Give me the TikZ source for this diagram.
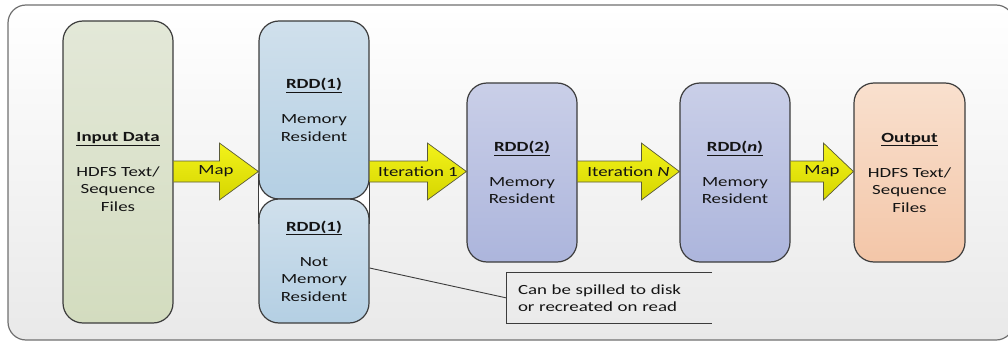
\documentclass[tikz,border=0pt]{standalone}
\usepackage{fontspec}
\setmainfont{Carlito}[FakeStretch=1.35]
\usetikzlibrary{calc,backgrounds}
\definecolor{boxline}{HTML}{3C3C3C}
\definecolor{inTop}{HTML}{E3E8D8}
\definecolor{inBot}{HTML}{D3DCBF}
\definecolor{rOneTop}{HTML}{D0E0EC}
\definecolor{rOneBot}{HTML}{B4CFE3}
\definecolor{rTwoTop}{HTML}{CACFE8}
\definecolor{rTwoBot}{HTML}{ACB5DC}
\definecolor{outTop}{HTML}{F9E0CE}
\definecolor{outBot}{HTML}{F3C6A8}
\definecolor{arrTop}{HTML}{F2F21A}
\definecolor{arrBot}{HTML}{D6D600}
\definecolor{arrLine}{HTML}{5A5A3A}
\definecolor{frameLine}{HTML}{707070}
\definecolor{frameBot}{HTML}{E9E9E9}
\definecolor{txt}{HTML}{141414}
\newcommand\flowarrow[4]{%
  \path[bigarrow] let \p1=(#1.east), \p2=(#2.west) in
    (\x1,-161pt) -- (\x2-#3,-161pt) -- (\x2-#3,-143pt) -- (\x2,-171.5pt)
    -- (\x2-#3,-200pt) -- (\x2-#3,-182pt) -- (\x1,-182pt) -- cycle;
  \path let \p1=(#1.east), \p2=(#2.west) in
    node[arrlabel] at ({(\x1+\x2)/2},-171.5pt) {#4};
}
\newcommand\ttl[1]{\underline{\textbf{#1}}}
\tikzset{
  stage/.style={draw=boxline, line width=1.2pt, rounded corners=20pt,
    minimum width=110pt, align=center, inner sep=0pt, text=txt,
    font=\fontsize{14pt}{17.5pt}\selectfont},
  inbox/.style={stage, top color=inTop, bottom color=inBot, minimum height=302pt},
  ronebox/.style={stage, top color=rOneTop, bottom color=rOneBot},
  rtwobox/.style={stage, top color=rTwoTop, bottom color=rTwoBot, minimum height=179pt},
  outbox/.style={stage, top color=outTop, bottom color=outBot, minimum height=179pt, minimum width=111pt},
  bigarrow/.style={draw=arrLine, line width=0.7pt, top color=arrTop, bottom color=arrBot},
  arrlabel/.style={text=txt, inner sep=0pt, font=\fontsize{14pt}{17.5pt}\selectfont},
  callbox/.style={minimum width=205pt, minimum height=50pt, text width=183pt,
    inner xsep=11pt, inner ysep=0pt, align=left, text=txt,
    font=\fontsize{14pt}{17.5pt}\selectfont},
  callline/.style={draw=boxline, line width=0.9pt},
}
\begin{document}
\begin{tikzpicture}[x=1pt,y=-1pt]
\useasboundingbox (0,0) rectangle (1008,342);
% stages
\node[inbox] (in) at (118,172) {\ttl{Input Data}\\[17.5pt]HDFS Text/\\Sequence\\Files};
\node[ronebox, minimum height=178pt] (r1) at (314,110) {\ttl{RDD(1)}\\[17.5pt]Memory\\Resident};
\node[ronebox, minimum height=124pt] (r1b) at (314,261) {\ttl{RDD(1)}\\[17.5pt]Not\\Memory\\Resident};
\node[rtwobox] (r2) at (522,172.5) {\ttl{RDD(2)}\\[17.5pt]Memory\\Resident};
\node[rtwobox] (rn) at (735,172.5) {\ttl{RDD(\textit{n})}\\[17.5pt]Memory\\Resident};
\node[outbox] (out) at (909.5,172.5) {\ttl{Output}\\[17.5pt]HDFS Text/\\Sequence\\Files};
% callout
\node[callbox] (c) at (609.5,298) {Can be spilled to disk\\or recreated on read};
\draw[callline] (c.north east) -- (c.north west) -- (c.south west) -- (c.south east);
\draw[callline] ($(r1b.east)+(0,7)$) -- (c.west);
% background
\begin{scope}[on background layer]
  \draw[frameLine, line width=1.2pt, rounded corners=18pt, top color=white, bottom color=frameBot]
    (8,5) rectangle (1014,340);
  \draw[boxline, line width=1pt, fill=white]
    ($(r1.south west)+(0,-25)$) rectangle ($(r1b.north east)+(0,25)$);
\end{scope}
% arrows
\flowarrow{in}{r1}{39pt}{Map}
\flowarrow{r1}{r2}{39pt}{Iteration 1}
\flowarrow{r2}{rn}{38pt}{Iteration \textit{N}}
\flowarrow{rn}{out}{30pt}{Map}
\end{tikzpicture}
\end{document}
